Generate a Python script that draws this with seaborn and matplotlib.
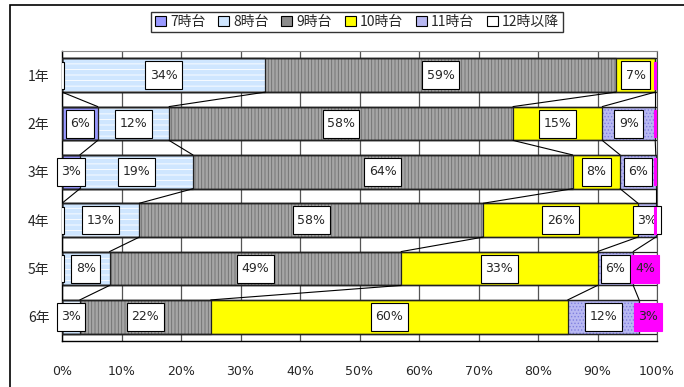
import numpy as np
import seaborn as sns
import matplotlib.pyplot as plt
from matplotlib.path import Path
from matplotlib.patches import Rectangle, Patch

sns.set_style("white")
plt.rcParams['font.family'] = ['Noto Sans CJK JP', 'DejaVu Sans']
plt.rcParams['hatch.linewidth'] = 0.6

# data (percent of students by wake-up / arrival hour)
grades = ['1年', '2年', '3年', '4年', '5年', '6年']
series = ['7時台', '8時台', '9時台', '10時台', '11時台', '12時以降']
h7 = [0, 6, 3, 0, 0, 0]
h8 = [34.2, 12, 19, 13, 8, 3]
h9 = [58.9, 57.8, 63.8, 57.8, 49, 22]
h10 = [6.6, 15, 8, 26, 33, 60]
h11 = [0, 8.9, 6, 3, 6, 12]
h12 = [0.3, 0.3, 0.2, 0.2, 4, 3]
values = np.array([h7, h8, h9, h10, h11, h12])

# fill, hatch, hatch colour, label box colour
fills = ['#9999ff', '#cfe6ff', '#a6a6a6', '#ffff00', '#b8b8f2', '#ffffff']
hatches = [None, '---', '|||||', None, '.....', None]
hatch_cols = ['#9999ff', '#ffffff', '#6e6e6e', '#ffff00', '#8080e0', '#ffffff']
box_cols = ['white', 'white', 'white', 'white', 'white', '#ff00ff']
legend_cols = ['#9999ff', '#cfe6ff', '#8c8c8c', '#ffff00', '#b8b8f2', '#ffffff']
num_font = ['DejaVu Sans Condensed', 'DejaVu Sans']

cum = np.cumsum(values, axis=0)
bar_h = 0.7


def tall_box(x0, y0, width, height, mutation_size):
    # label box taller than wide padding, like the excel data labels
    px, py = 0.35 * mutation_size, 0.6 * mutation_size
    x0, y0 = x0 - px, y0 - py
    x1, y1 = x0 + width + 2 * px, y0 + height + 2 * py
    return Path([(x0, y0), (x1, y0), (x1, y1), (x0, y1), (x0, y0)], closed=True)


fig = plt.figure(figsize=(6.84, 3.87), dpi=100)
ax = fig.add_axes([62/684, 1-341/387, 595/684, 290/387])

# stacked bars: draw cumulative totals from the last series to the first
for i in range(len(series)-1, -1, -1):
    sns.barplot(x=cum[i], y=grades, orient='h', color=fills[i], saturation=1,
                width=bar_h, edgecolor=hatch_cols[i], linewidth=0,
                hatch=hatches[i], errorbar=None, ax=ax, zorder=2)
for i in range(len(series)):
    ax.barh(range(len(grades)), cum[i], height=bar_h, fill=False,
            edgecolor='#222222', linewidth=0.9, zorder=3)

# series lines between neighbouring bars
for k in range(len(series)-1):
    for r in range(len(grades)-1):
        ax.plot([cum[k][r], cum[k][r+1]], [r + bar_h/2, r + 1 - bar_h/2],
                color='black', lw=0.8, zorder=3)

# data labels
for i in range(len(series)):
    for r in range(len(grades)):
        v = values[i][r]
        c = cum[i][r] - v/2
        if v >= 2:
            ax.text(c, r, f"{v:.0f}%", ha='center', va='center', fontsize=9,
                    family=num_font, zorder=5,
                    bbox=dict(boxstyle=tall_box, fc=box_cols[i],
                              ec='black' if i < 5 else box_cols[i], lw=0.8))
        elif i in (0, 5):
            ax.add_patch(Rectangle((c - 0.35, r - 0.28), 0.7, 0.56, fc=box_cols[i],
                                   ec='black' if i == 0 else box_cols[i], lw=0.8, zorder=5))

ax.set_xlim(0, 100)
ax.set_ylim(len(grades) - 0.5, -0.5)
ax.set_xticks(np.arange(0, 101, 10))
ax.set_xticklabels([f"{t}%" for t in range(0, 101, 10)], fontsize=9, family=num_font)
ax.set_yticks(range(len(grades)))
ax.set_yticklabels(grades, fontsize=10)
ax.set_yticks(np.arange(0.5, len(grades) - 0.5, 1), minor=True)
ax.tick_params(axis='x', length=0, pad=17)
ax.tick_params(axis='y', which='major', length=0, pad=9)
ax.tick_params(axis='y', which='minor', length=4, direction='in', color='black')
ax.set_xlabel('')
ax.set_ylabel('')
ax.grid(axis='x', color='#555555', lw=0.9, zorder=0)
ax.set_axisbelow(True)
for s in ['left', 'bottom']:
    ax.spines[s].set_color('black')
    ax.spines[s].set_linewidth(1.0)
ax.spines['top'].set_color('#888888')
ax.spines['right'].set_color('#555555')

handles = [Patch(facecolor=legend_cols[i], edgecolor='black', lw=0.8) for i in range(len(series))]
fig.legend(handles, series, loc='center', bbox_to_anchor=(357/684, 1-22/387), ncol=6,
           fontsize=10, frameon=True, fancybox=False, edgecolor='black',
           handlelength=0.8, handleheight=0.8, handletextpad=0.3, columnspacing=0.9,
           borderpad=0.25)

# chart area border
fig.patches.append(Rectangle((10/684, -0.1), 1.2, 1.1 - 5/387, transform=fig.transFigure,
                             fill=False, edgecolor='black', lw=1.2, clip_on=False))

fig.savefig('out.png', dpi=100)
